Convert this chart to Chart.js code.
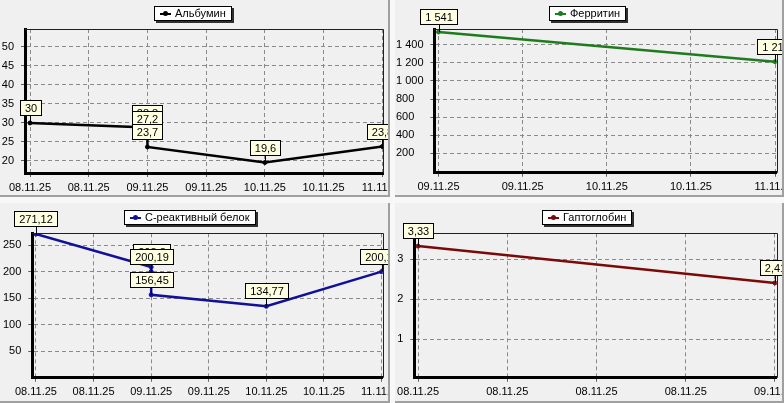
<!DOCTYPE html>
<html><head><meta charset="utf-8">
<script src="https://cdn.jsdelivr.net/npm/chart.js@4.4.1/dist/chart.umd.min.js"></script>
<style>
html,body{margin:0;padding:0;background:#f8f8f8;width:784px;height:403px;overflow:hidden;font-family:"Liberation Sans",Arial,sans-serif;}
.panel{position:absolute;background:#f0f0f0;border-right:2px solid #a0a0a0;border-bottom:2px solid #a0a0a0;box-sizing:border-box;}
canvas{position:absolute;}
.legend{position:absolute;background:#fff;border:1px solid #000;box-shadow:2px 2px 0 #303030;font-size:11px;height:13px;line-height:13px;padding:0 5px 0 5px;white-space:nowrap;display:flex;align-items:center;color:#000;}
.sym{position:relative;display:inline-block;width:11px;height:2px;margin-right:4px;}
.dot{position:absolute;left:3px;top:-2px;width:5px;height:5px;border-radius:50%;}
</style>
</head><body>
<div class="panel" style="left:0;top:0;width:390px;height:197px"></div>
<div class="panel" style="left:395px;top:0;width:389px;height:197px"></div>
<div class="panel" style="left:0;top:203px;width:390px;height:200px"></div>
<div class="panel" style="left:395px;top:203px;width:389px;height:200px"></div>
<script>
// ---- DATA (x = days counted from 08.11.25) ----
const albuminLabel = 'Альбумин';
const albuminDays = [0, 1, 1, 1, 2, 3];
const albuminValues = [30, 28.8, 27.2, 23.7, 19.6, 23.8];
const albuminXTicks = [0, 0.5, 1, 1.5, 2, 2.5, 3];
const albuminXLabels = ['08.11.25','08.11.25','09.11.25','09.11.25','10.11.25','10.11.25','11.11.25'];
const albuminYTicks = [20, 25, 30, 35, 40, 45, 50];

const ferritinLabel = 'Ферритин';
const ferritinDays = [1, 3];
const ferritinValues = [1541, 1213];
const ferritinXTicks = [1, 1.5, 2, 2.5, 3];
const ferritinXLabels = ['09.11.25','09.11.25','10.11.25','10.11.25','11.11.25'];
const ferritinYTicks = [200, 400, 600, 800, 1000, 1200, 1400];

const crpLabel = 'С-реактивный белок';
const crpDays = [0, 1, 1, 1, 2, 3];
const crpValues = [271.12, 208.8, 200.19, 156.45, 134.77, 200.15];
const crpXTicks = [0, 0.5, 1, 1.5, 2, 2.5, 3];
const crpXLabels = ['08.11.25','08.11.25','09.11.25','09.11.25','10.11.25','10.11.25','11.11.25'];
const crpYTicks = [50, 100, 150, 200, 250];

const haptoLabel = 'Гаптоглобин';
const haptoDays = [0, 1];
const haptoValues = [3.33, 2.41];
const haptoXTicks = [0, 0.25, 0.5, 0.75, 1];
const haptoXLabels = ['08.11.25','08.11.25','08.11.25','08.11.25','09.11.25'];
const haptoYTicks = [1, 2, 3];

// ---- helpers ----
const FONT = '"Liberation Sans", Arial, sans-serif';
function fmtNum(v){
  const parts = String(v).split('.');
  const intPart = parts[0].replace(/\B(?=(\d{3})+(?!\d))/g, ' ');
  return parts[1] ? intPart + ',' + parts[1] : intPart;
}

const framePlugin = {
  id:'frame',
  beforeDatasetsDraw(chart){
    const {ctx, chartArea:a} = chart;
    ctx.save();
    ctx.strokeStyle = '#202020'; ctx.lineWidth = 1;
    ctx.beginPath();
    ctx.moveTo(a.left, Math.round(a.top)+0.5);
    ctx.lineTo(Math.round(a.right)+0.5, Math.round(a.top)+0.5);
    ctx.lineTo(Math.round(a.right)+0.5, a.bottom);
    ctx.stroke();
    ctx.restore();
  }
};

const markPlugin = {
  id:'marks',
  afterDatasetsDraw(chart){
    const ctx = chart.ctx;
    chart.data.datasets.forEach((ds, di) => {
      const meta = chart.getDatasetMeta(di);
      meta.data.forEach((pt, i) => {
        const txt = fmtNum(ds.data[i].y);
        ctx.save();
        ctx.font = '11px ' + FONT;
        const tw = ctx.measureText(txt).width;
        const bw = Math.round(tw + 9), bh = 15;
        const px = Math.round(pt.x);
        const bx = Math.round(pt.x - bw/2) + 0.5;
        const by = Math.round(pt.y - 8 - bh) + 0.5;
        ctx.strokeStyle = '#000'; ctx.lineWidth = 1;
        ctx.beginPath(); ctx.moveTo(px + 0.5, pt.y); ctx.lineTo(px + 0.5, by + bh); ctx.stroke();
        ctx.fillStyle = '#ffffe1';
        ctx.fillRect(bx, by, bw, bh);
        ctx.strokeRect(bx, by, bw, bh);
        ctx.fillStyle = '#000'; ctx.textAlign = 'center'; ctx.textBaseline = 'middle';
        ctx.fillText(txt, bx + bw/2, by + bh/2 + 1);
        ctx.restore();
      });
    });
  }
};

function makeChart(c){
  const cv = document.createElement('canvas');
  cv.width = c.w; cv.height = c.h;
  cv.style.left = c.x + 'px'; cv.style.top = c.y + 'px';
  cv.style.width = c.w + 'px'; cv.style.height = c.h + 'px';
  document.body.appendChild(cv);

  const lg = document.createElement('div');
  lg.className = 'legend';
  lg.style.left = c.legX + 'px'; lg.style.top = c.legY + 'px';
  const sym = document.createElement('span'); sym.className = 'sym'; sym.style.background = c.color;
  const dot = document.createElement('span'); dot.className = 'dot'; dot.style.background = c.color;
  sym.appendChild(dot);
  lg.appendChild(sym);
  lg.appendChild(document.createTextNode(c.label));
  document.body.appendChild(lg);

  const tickFont = {size: 11, family: FONT};
  new Chart(cv, {
    type:'line',
    data:{datasets:[{
      label: c.label,
      data: c.days.map((d, i) => ({x: d, y: c.values[i]})),
      borderColor: c.color, backgroundColor: c.color,
      borderWidth: 2.5, pointRadius: 2, pointBorderWidth: 1,
      pointBackgroundColor: c.color, pointBorderColor: c.color,
      tension: 0, fill: false
    }]},
    options:{
      responsive:false, animation:false, devicePixelRatio:1,
      layout:{padding:{left:c.padL, top:c.area.t, right:c.w - c.area.r, bottom:0}, autoPadding:false},
      plugins:{legend:{display:false}, tooltip:{enabled:false}},
      scales:{
        x:{
          type:'linear', min:c.xMin, max:c.xMax,
          afterBuildTicks: s => { s.ticks = c.xTicks.map(v => ({value:v})); },
          afterFit: s => { s.height = c.h - c.area.b; s.paddingLeft = 0; s.paddingRight = 0; },
          ticks:{autoSkip:false, maxRotation:0, minRotation:0, padding:4, color:'#000', font:tickFont,
                 callback:(v, i) => c.xLabels[i]},
          grid:{color:'#8a8a8a', lineWidth:1, tickLength:4, tickColor:'#606060', drawOnChartArea:true},
          border:{display:true, color:'#000', width:3, dash:[4,3]}
        },
        y:{
          type:'linear', min:c.yMin, max:c.yMax,
          afterBuildTicks: s => { s.ticks = c.yTicks.map(v => ({value:v})); },
          afterFit: s => { s.width = c.area.l - c.padL; s.paddingTop = 0; s.paddingBottom = 0; },
          ticks:{padding:7, color:'#000', font:tickFont, crossAlign:c.yAlign, callback:v => fmtNum(v)},
          grid:{color:'#8a8a8a', lineWidth:1, tickLength:4, tickColor:'#606060', drawOnChartArea:true},
          border:{display:true, color:'#000', width:3, dash:[4,3]}
        }
      }
    },
    plugins:[framePlugin, markPlugin]
  });
}

makeChart({x:0, y:0, w:388, h:195, area:{l:25, t:29, r:383, b:173}, padL:0, yAlign:'near',
  label:albuminLabel, days:albuminDays, values:albuminValues, color:'#000000',
  xTicks:albuminXTicks, xLabels:albuminXLabels, yTicks:albuminYTicks,
  xMin:-0.0426, xMax:3.006, yMin:16.84, yMax:54.7, legX:154, legY:6});

makeChart({x:395, y:0, w:387, h:195, area:{l:39.3, t:29, r:381.7, b:172.7}, padL:1, yAlign:'far',
  label:ferritinLabel, days:ferritinDays, values:ferritinValues, color:'#1e7b1e',
  xTicks:ferritinXTicks, xLabels:ferritinXLabels, yTicks:ferritinYTicks,
  xMin:0.975, xMax:3.010, yMin:-14, yMax:1574, legX:549, legY:6});

makeChart({x:0, y:203, w:388, h:198, area:{l:32.3, t:30.3, r:382.7, b:174.7}, padL:0, yAlign:'near',
  label:crpLabel, days:crpDays, values:crpValues, color:'#10109a',
  xTicks:crpXTicks, xLabels:crpXLabels, yTicks:crpYTicks,
  xMin:-0.032, xMax:3.010, yMin:0, yMax:272.5, legX:124, legY:210});

makeChart({x:395, y:203, w:387, h:198, area:{l:19.3, t:30.3, r:381.7, b:174.7}, padL:0, yAlign:'near',
  label:haptoLabel, days:haptoDays, values:haptoValues, color:'#7a0a0a',
  xTicks:haptoXTicks, xLabels:haptoXLabels, yTicks:haptoYTicks,
  xMin:-0.0104, xMax:1.0048, yMin:0.04, yMax:3.65, legX:542, legY:210});
</script>
</body></html>
